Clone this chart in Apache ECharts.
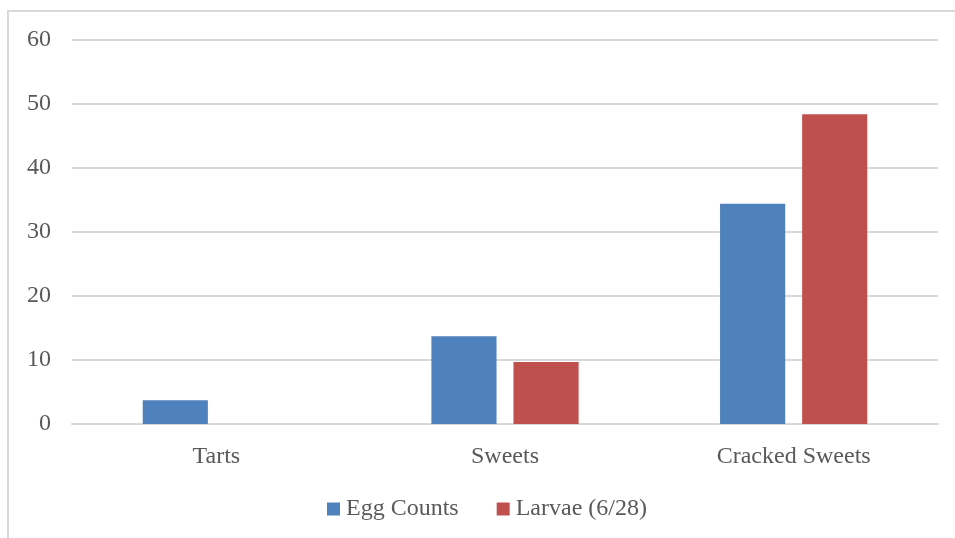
<!DOCTYPE html>
<html><head><meta charset="utf-8">
<script src="https://cdn.jsdelivr.net/npm/echarts@6/dist/echarts.min.js"></script>
<style>
html,body{margin:0;padding:0;background:#fff;}
#frame{position:absolute;left:7px;top:10px;width:960px;height:540px;border-left:2px solid #d9d9d9;border-top:2px solid #d9d9d9;}
#c{position:absolute;left:0;top:0;width:955px;height:538px;}
</style></head>
<body>
<div id="frame"></div>
<div id="c"></div>
<script>
const categories = ['Tarts', 'Sweets', 'Cracked Sweets'];
const eggCounts = [3.7, 13.7, 34.4];
const larvae = [null, 9.7, 48.4];
const yTicks = { min: 0, max: 60, interval: 10 };

const font = "'Liberation Serif', serif";
const fs = 24;
const chart = echarts.init(document.getElementById('c'));
chart.setOption({
  animation: false,
  textStyle: { fontFamily: font },
  grid: { left: 72, right: 17, top: 40, bottom: 114, containLabel: false },
  legend: {
    bottom: 12, left: 322, itemWidth: 13, itemHeight: 13, itemGap: 38,
    icon: 'rect',
    textStyle: { fontFamily: font, fontSize: fs, color: '#595959', padding: [0,0,0,1] },
    data: ['Egg Counts', 'Larvae (6/28)']
  },
  xAxis: {
    type: 'category', data: categories,
    axisLine: { lineStyle: { color: '#d9d9d9', width: 2 } },
    axisTick: { show: false },
    axisLabel: { fontFamily: font, fontSize: fs, color: '#595959', margin: 21 }
  },
  yAxis: {
    type: 'value', min: yTicks.min, max: yTicks.max, interval: yTicks.interval,
    axisLine: { show: false }, axisTick: { show: false },
    splitLine: { lineStyle: { color: '#d9d9d9', width: 2 } },
    axisLabel: { fontFamily: font, fontSize: fs, color: '#595959', margin: 21 }
  },
  series: [
    { name: 'Egg Counts', type: 'bar', data: eggCounts, itemStyle: { color: '#4F81BD' },
      barGap: '26%', barCategoryGap: '49%' },
    { name: 'Larvae (6/28)', type: 'bar', data: larvae, itemStyle: { color: '#C0504D' } }
  ]
});
</script>
</body></html>
